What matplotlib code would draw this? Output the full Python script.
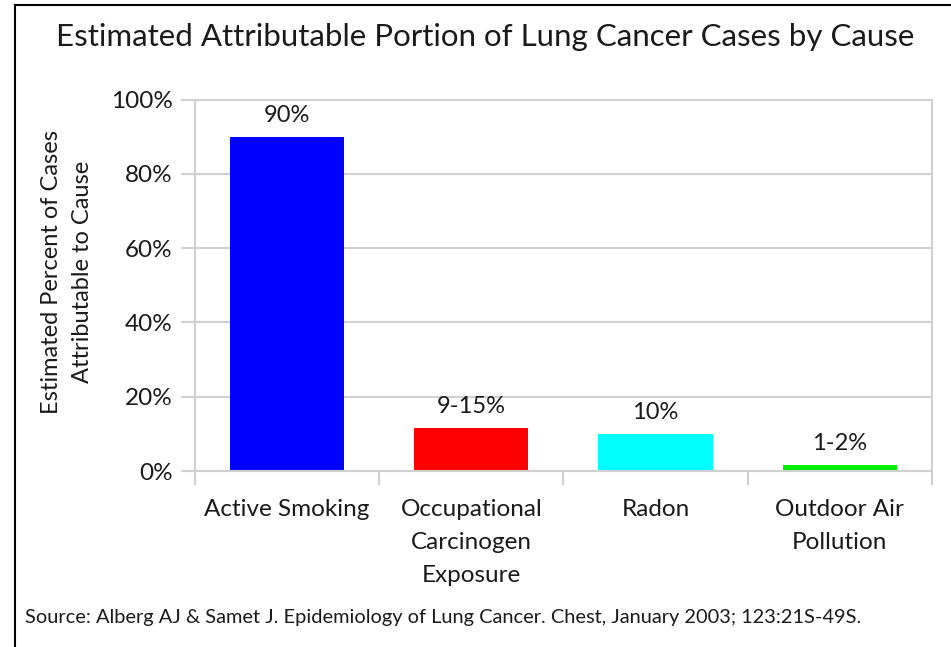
import matplotlib.pyplot as plt
from matplotlib.lines import Line2D
from matplotlib.ticker import FuncFormatter, FixedLocator

causes = ['Active Smoking', 'Occupational\nCarcinogen\nExposure', 'Radon', 'Outdoor Air\nPollution']
values = [90, 11.5, 10, 1.5]
value_labels = ['90%', '9-15%', '10%', '1-2%']
colors = ['#0000ff', '#ff0000', '#00ffff', '#00ee00']

plt.rcParams['font.family'] = ['Lato', 'DejaVu Sans']
txt = '#1a1a1a'
grid = '#d0d0d0'

fig = plt.figure(figsize=(9.51, 6.47), dpi=100)
ax = fig.add_axes([0.205, 0.272, 0.775, 0.574])

x = range(len(causes))
rects = ax.bar(x, values, width=0.62, color=colors, zorder=2)
ax.bar_label(rects, labels=value_labels, padding=8, fontsize=17, color=txt)

ax.set_xlim(-0.5, 3.5)
ax.set_ylim(0, 100)
ax.set_yticks(range(0, 101, 20))
ax.yaxis.set_major_formatter(FuncFormatter(lambda v, p: f'{int(v)}%'))
ax.set_xticks(list(x))
ax.set_xticklabels(causes, fontsize=17.5, color=txt, linespacing=1.7)
ax.xaxis.set_minor_locator(FixedLocator([-0.5, 0.5, 1.5, 2.5, 3.5]))
ax.tick_params(axis='x', which='major', length=0, pad=20)
ax.tick_params(axis='x', which='minor', length=10, width=1.5, color=grid, direction='out')
ax.tick_params(axis='y', length=10, width=1.5, color=grid, labelsize=17.5, labelcolor=txt, pad=6)

ax.grid(axis='y', color=grid, linewidth=1.5, zorder=0)
for s in ax.spines.values():
    s.set_color(grid)
    s.set_linewidth(1.5)

ax.set_ylabel('Estimated Percent of Cases\nAttributable to Cause', fontsize=17, color=txt,
              linespacing=1.55)
ax.yaxis.set_label_coords(-0.139, 0.536)

fig.text(0.5105, 0.943, 'Estimated Attributable Portion of Lung Cancer Cases by Cause',
         ha='center', va='center', fontsize=22.5, color=txt)
fig.text(0.026, 0.045, 'Source: Alberg AJ & Samet J. Epidemiology of Lung Cancer. Chest, January 2003; 123:21S-49S.',
         ha='left', va='center', fontsize=14.4, color=txt)

# outer frame (top and left edges only)
fig.add_artist(Line2D([0.016, 1.0], [0.992, 0.992], color='black', linewidth=1.5))
fig.add_artist(Line2D([0.016, 0.016], [0.0, 0.992], color='black', linewidth=1.5))

fig.savefig('out.png', dpi=100)
